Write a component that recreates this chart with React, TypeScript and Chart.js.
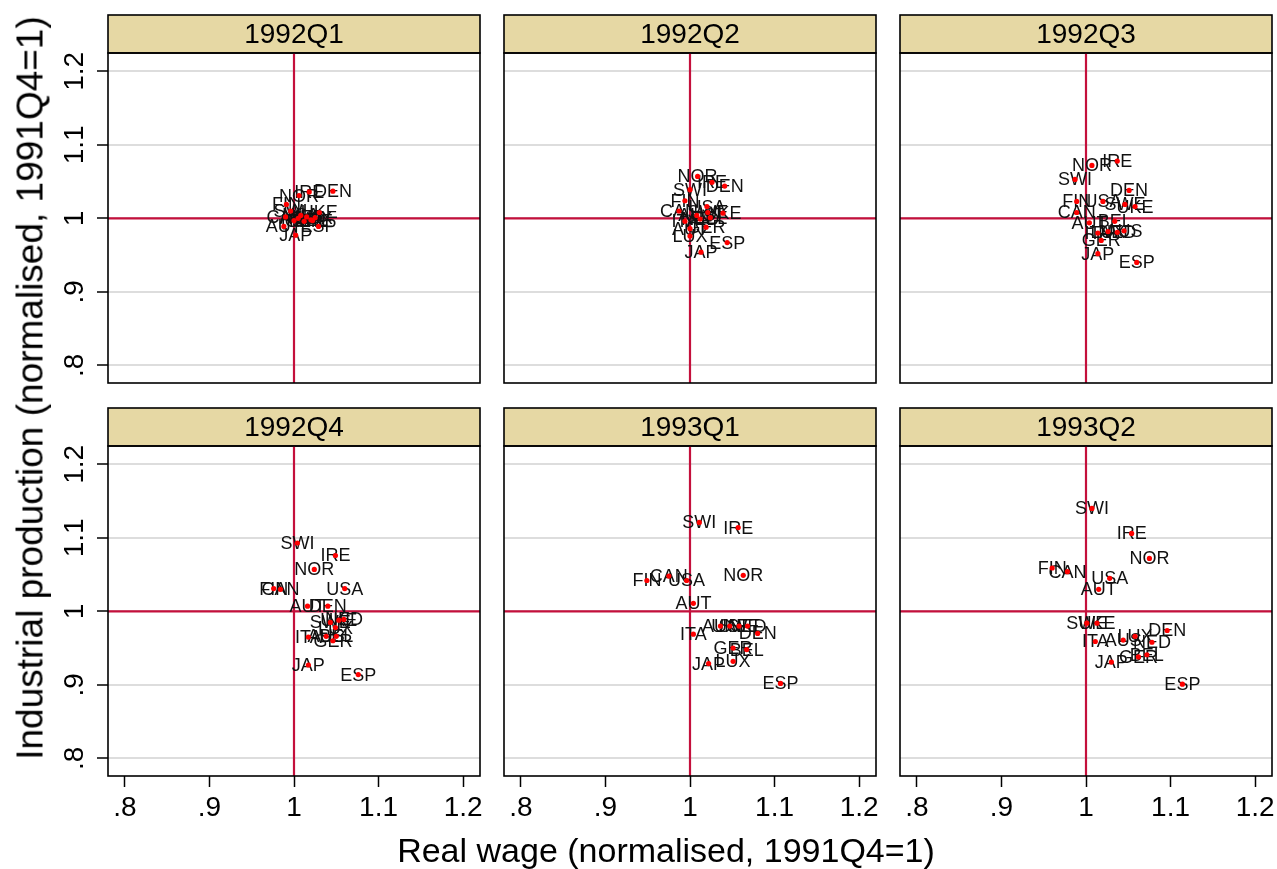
import React, { useEffect, useRef } from "react";
import { Chart, registerables } from "chart.js";

Chart.register(...registerables);

// ---------------- data ----------------
const COUNTRIES = ["AUS", "AUT", "BEL", "CAN", "DEN", "ESP", "FIN", "GER", "IRE", "ITA", "JAP", "LUX", "NED", "NOR", "SWE", "SWI", "UKE", "USA"];
const QUARTERS = ["1992Q1", "1992Q2", "1992Q3", "1992Q4", "1993Q1", "1993Q2"];

const WAGE_1992Q1 = [1.005, 0.988, 1.020, 0.990, 1.046, 1.029, 0.991, 1.012, 1.018, 1.000, 1.002, 1.025, 1.015, 1.006, 1.022, 0.996, 1.030, 1.008];
const PROD_1992Q1 = [1.000, 0.989, 0.998, 1.002, 1.037, 0.989, 1.019, 0.996, 1.036, 0.997, 0.977, 1.001, 1.002, 1.031, 0.997, 1.010, 1.008, 1.004];

const WAGE_1992Q2 = [1.008, 1.000, 1.024, 0.987, 1.041, 1.044, 0.994, 1.019, 1.026, 0.994, 1.013, 1.000, 1.012, 1.009, 1.021, 1.000, 1.039, 1.020];
const PROD_1992Q2 = [1.004, 0.986, 1.001, 1.010, 1.044, 0.967, 1.024, 0.988, 1.049, 0.996, 0.954, 0.976, 0.999, 1.057, 1.008, 1.039, 1.007, 1.016];

const WAGE_1992Q3 = [1.045, 1.004, 1.034, 0.989, 1.051, 1.060, 0.989, 1.018, 1.037, 1.014, 1.014, 1.026, 1.037, 1.007, 1.046, 0.987, 1.058, 1.020];
const PROD_1992Q3 = [0.983, 0.994, 0.996, 1.008, 1.038, 0.940, 1.023, 0.970, 1.078, 0.980, 0.952, 0.982, 0.981, 1.072, 1.019, 1.053, 1.016, 1.023];

const WAGE_1992Q4 = [1.038, 1.016, 1.050, 0.984, 1.040, 1.076, 0.976, 1.046, 1.049, 1.017, 1.017, 1.049, 1.059, 1.024, 1.043, 1.004, 1.053, 1.060];
const PROD_1992Q4 = [0.966, 1.007, 0.966, 1.030, 1.007, 0.914, 1.031, 0.960, 1.076, 0.965, 0.927, 0.978, 0.989, 1.057, 0.985, 1.093, 0.988, 1.031];

const WAGE_1993Q1 = [1.036, 1.004, 1.067, 0.975, 1.080, 1.107, 0.949, 1.051, 1.057, 1.004, 1.022, 1.051, 1.068, 1.063, 1.058, 1.011, 1.047, 0.996];
const PROD_1993Q1 = [0.980, 1.011, 0.948, 1.048, 0.970, 0.902, 1.042, 0.950, 1.114, 0.969, 0.929, 0.932, 0.980, 1.049, 0.980, 1.121, 0.980, 1.042];

const WAGE_1993Q2 = [1.044, 1.015, 1.072, 0.978, 1.096, 1.114, 0.960, 1.062, 1.054, 1.011, 1.030, 1.058, 1.078, 1.075, 1.001, 1.007, 1.013, 1.028];
const PROD_1993Q2 = [0.961, 1.030, 0.941, 1.054, 0.974, 0.901, 1.059, 0.938, 1.106, 0.959, 0.931, 0.966, 0.958, 1.072, 0.984, 1.140, 0.984, 1.045];

const WAGES = [WAGE_1992Q1, WAGE_1992Q2, WAGE_1992Q3, WAGE_1992Q4, WAGE_1993Q1, WAGE_1993Q2];
const PRODS = [PROD_1992Q1, PROD_1992Q2, PROD_1992Q3, PROD_1992Q4, PROD_1993Q1, PROD_1993Q2];

const TICK_VALUES = [0.8, 0.9, 1, 1.1, 1.2];
const TICK_LABELS = [".8", ".9", "1", "1.1", "1.2"];
const REF_X = 1;
const REF_Y = 1;
const X_TITLE = "Real wage (normalised, 1991Q4=1)";
const Y_TITLE = "Industrial production (normalised, 1991Q4=1)";

// ---------------- layout ----------------
const FONT = "'Liberation Sans', Arial, Helvetica, sans-serif";
const FRAME_LEFT = [108, 504, 900];
const FRAME_W = 372;
const HEADER_TOP = [15, 408];
const HEADER_H = 38;
const PLOT_H = 330;
const X_MIN = 0.78, X_MAX = 1.22, Y_MIN = 0.776, Y_MAX = 1.225;

function labelFor(v: number) {
  const i = TICK_VALUES.findIndex((t) => Math.abs(t - v) < 1e-6);
  return i >= 0 ? TICK_LABELS[i] : "";
}

function Panel({ idx }: { idx: number }) {
  const ref = useRef<HTMLCanvasElement>(null);
  const r = Math.floor(idx / 3);
  const c = idx % 3;
  const cl = c === 0 ? 0 : FRAME_LEFT[c] - 6;
  const cr = FRAME_LEFT[c] + FRAME_W + 6;
  const ct = HEADER_TOP[r] - 2;
  const plotBottom = HEADER_TOP[r] + HEADER_H + PLOT_H;
  const cb = r === 1 ? 842 : plotBottom + 6;
  const W = cr - cl;
  const H = cb - ct;

  useEffect(() => {
    const canvas = ref.current!;
    const points = COUNTRIES.map((_, i) => ({ x: WAGES[idx][i], y: PRODS[idx][i] }));
    const title = QUARTERS[idx];

    const panelPlugin = {
      id: "panel",
      beforeDraw(chart: any) {
        const { ctx, chartArea: a } = chart;
        ctx.save();
        ctx.fillStyle = "#ffffff";
        ctx.fillRect(a.left, a.top, a.right - a.left, a.bottom - a.top);
        ctx.fillStyle = "#e6d8a4";
        ctx.fillRect(a.left, a.top - HEADER_H, a.right - a.left, HEADER_H);
        ctx.strokeStyle = "#000";
        ctx.lineWidth = 1.6;
        ctx.strokeRect(a.left, a.top - HEADER_H, a.right - a.left, HEADER_H);
        ctx.fillStyle = "#000";
        ctx.font = `28px ${FONT}`;
        ctx.textAlign = "center";
        ctx.textBaseline = "middle";
        ctx.fillText(title, (a.left + a.right) / 2, a.top - HEADER_H / 2 + 1);
        ctx.restore();
      },
      beforeDatasetsDraw(chart: any) {
        const { ctx, chartArea: a, scales } = chart;
        ctx.save();
        ctx.beginPath();
        ctx.rect(a.left, a.top, a.right - a.left, a.bottom - a.top);
        ctx.clip();
        ctx.strokeStyle = "#c4103c";
        ctx.lineWidth = 2.2;
        const px = scales.x.getPixelForValue(REF_X);
        const py = scales.y.getPixelForValue(REF_Y);
        ctx.beginPath();
        ctx.moveTo(px, a.top);
        ctx.lineTo(px, a.bottom);
        ctx.moveTo(a.left, py);
        ctx.lineTo(a.right, py);
        ctx.stroke();
        // marker labels, centred on the markers
        const meta = chart.getDatasetMeta(0);
        ctx.fillStyle = "#111";
        ctx.font = `18px ${FONT}`;
        ctx.textAlign = "center";
        ctx.textBaseline = "middle";
        meta.data.forEach((el: any, i: number) => {
          ctx.fillText(COUNTRIES[i], el.x, el.y + 1);
        });
        ctx.restore();
      },
      afterDraw(chart: any) {
        const { ctx, chartArea: a } = chart;
        ctx.save();
        ctx.strokeStyle = "#000";
        ctx.lineWidth = 1.6;
        ctx.strokeRect(a.left, a.top, a.right - a.left, a.bottom - a.top);
        ctx.restore();
      },
    };

    const chart = new Chart(canvas, {
      type: "scatter",
      data: {
        datasets: [
          {
            data: points,
            backgroundColor: "#ff0000",
            borderWidth: 0,
            pointRadius: 2.6,
          },
        ],
      },
      options: {
        responsive: false,
        maintainAspectRatio: false,
        animation: false,
        events: [],
        layout: { padding: { left: 0, top: 2 + HEADER_H, right: 6, bottom: r === 1 ? 0 : 6 } },
        plugins: { legend: { display: false }, tooltip: { enabled: false } },
        scales: {
          x: {
            type: "linear",
            min: X_MIN,
            max: X_MAX,
            display: r === 1,
            afterBuildTicks: (s: any) => {
              s.ticks = TICK_VALUES.map((v) => ({ value: v }));
            },
            afterFit: (s: any) => {
              s.height = r === 1 ? cb - plotBottom : 0;
              s.paddingLeft = 0;
              s.paddingRight = 0;
              s.paddingTop = 0;
              s.paddingBottom = 0;
            },
            border: { display: false },
            grid: {
              drawOnChartArea: false,
              drawTicks: true,
              tickLength: 11,
              tickColor: "#000",
              tickWidth: 1.5,
            },
            ticks: {
              autoSkip: false,
              maxRotation: 0,
              minRotation: 0,
              padding: 4,
              color: "#000",
              font: { family: FONT, size: 28 },
              callback: (v: any) => labelFor(Number(v)),
            },
          },
          y: {
            type: "linear",
            min: Y_MIN,
            max: Y_MAX,
            display: true,
            afterBuildTicks: (s: any) => {
              s.ticks = TICK_VALUES.map((v) => ({ value: v }));
            },
            afterFit: (s: any) => {
              s.width = FRAME_LEFT[c] - cl;
              s.paddingLeft = 0;
              s.paddingRight = 0;
              s.paddingTop = 0;
              s.paddingBottom = 0;
            },
            border: { display: false },
            grid: {
              color: "#dddddd",
              lineWidth: 2,
              drawTicks: c === 0,
              tickLength: 11,
              tickColor: "#000",
              tickWidth: 1.5,
            },
            ticks: {
              display: c === 0,
              autoSkip: false,
              minRotation: 90,
              maxRotation: 90,
              crossAlign: "center",
              padding: 2,
              color: "#000",
              font: { family: FONT, size: 28 },
              callback: (v: any) => labelFor(Number(v)),
            },
          },
        },
      },
      plugins: [panelPlugin],
    } as any);
    return () => chart.destroy();
  }, []);

  return (
    <canvas
      ref={ref}
      width={W}
      height={H}
      style={{ position: "absolute", left: cl, top: ct, width: W, height: H }}
    />
  );
}

export default function App() {
  return (
    <div style={{ position: "absolute", left: 0, top: 0, width: 1277, height: 869, background: "#fff", overflow: "hidden", fontFamily: FONT }}>
      {QUARTERS.map((q, i) => (
        <Panel key={q} idx={i} />
      ))}
      <div
        style={{
          position: "absolute",
          left: 666,
          top: 850,
          transform: "translate(-50%, -50%)",
          whiteSpace: "nowrap",
          fontSize: 34,
          color: "#000",
          lineHeight: 1,
        }}
      >
        {X_TITLE}
      </div>
      <div
        style={{
          position: "absolute",
          left: 30,
          top: 388,
          transform: "translate(-50%, -50%) rotate(-90deg)",
          whiteSpace: "nowrap",
          fontSize: 37,
          color: "#000",
          lineHeight: 1,
        }}
      >
        {Y_TITLE}
      </div>
    </div>
  );
}
